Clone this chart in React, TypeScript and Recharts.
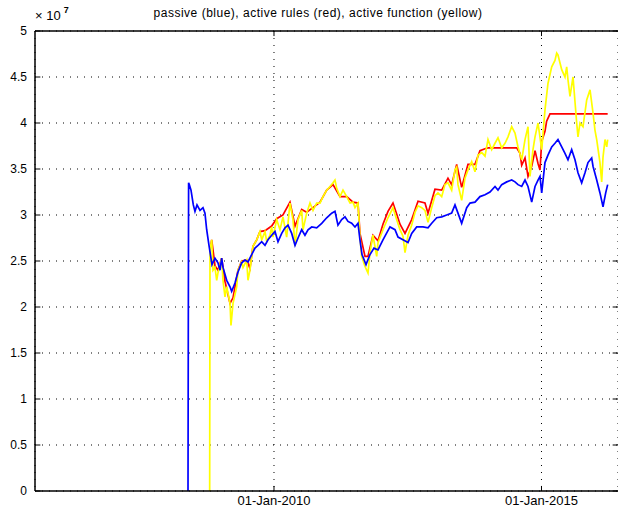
import { LineChart, Line, XAxis, YAxis, CartesianGrid, ReferenceLine } from 'recharts';

// x in decimal years, y in units of 10^7
const xMin = 2005.533;
const xMax = 2016.43;
const xTicks = [2010, 2015];
const yTicks = [0, 0.5, 1, 1.5, 2, 2.5, 3, 3.5, 4, 4.5, 5];

const blueYears = [
  2008.393, 2008.398, 2008.404, 2008.417, 2008.449, 2008.492, 2008.523, 2008.561, 2008.617, 2008.673,
  2008.710, 2008.742, 2008.785, 2008.841, 2008.897, 2008.953, 2008.991, 2009.022, 2009.047, 2009.116,
  2009.178, 2009.209, 2009.271, 2009.327, 2009.396, 2009.458, 2009.514, 2009.583, 2009.645, 2009.701,
  2009.770, 2009.832, 2009.888, 2009.957, 2010.019, 2010.075, 2010.144, 2010.206, 2010.262, 2010.331,
  2010.393, 2010.449, 2010.518, 2010.579, 2010.636, 2010.705, 2010.798, 2010.892, 2010.985, 2011.079,
  2011.140, 2011.196, 2011.265, 2011.327, 2011.383, 2011.452, 2011.514, 2011.570, 2011.607, 2011.645,
  2011.720, 2011.794, 2011.869, 2011.944, 2012.037, 2012.168, 2012.262, 2012.318, 2012.411, 2012.505,
  2012.574, 2012.667, 2012.785, 2012.879, 2012.948, 2013.041, 2013.135, 2013.228, 2013.321, 2013.383,
  2013.439, 2013.508, 2013.602, 2013.664, 2013.757, 2013.850, 2013.944, 2014.037, 2014.131, 2014.187,
  2014.256, 2014.350, 2014.443, 2014.505, 2014.561, 2014.630, 2014.692, 2014.748, 2014.817, 2014.879,
  2014.935, 2014.972, 2015.004, 2015.065, 2015.121, 2015.191, 2015.252, 2015.308, 2015.378, 2015.439,
  2015.495, 2015.564, 2015.626, 2015.682, 2015.751, 2015.813, 2015.869, 2015.938, 2015.963, 2016.032,
  2016.093, 2016.150, 2016.200, 2016.237,
];
const blueValues = [
  0, 1.64, 3.35, 3.33, 3.27, 3.11, 3.04, 3.11, 3.05, 3.08,
  3.02, 2.84, 2.67, 2.46, 2.53, 2.48, 2.40, 2.53, 2.43, 2.29,
  2.22, 2.17, 2.26, 2.38, 2.48, 2.51, 2.49, 2.57, 2.64, 2.67,
  2.71, 2.67, 2.73, 2.78, 2.82, 2.71, 2.80, 2.86, 2.89, 2.80,
  2.67, 2.75, 2.84, 2.78, 2.84, 2.87, 2.86, 2.91, 2.97, 3.02,
  3.04, 2.89, 2.95, 2.98, 2.93, 2.91, 2.87, 2.91, 2.73, 2.57,
  2.46, 2.57, 2.64, 2.62, 2.73, 2.87, 2.84, 2.76, 2.73, 2.70,
  2.80, 2.87, 2.87, 2.86, 2.91, 2.97, 2.98, 3.00, 3.02, 3.11,
  3.02, 2.91, 3.08, 3.13, 3.14, 3.20, 3.22, 3.25, 3.31, 3.27,
  3.33, 3.36, 3.38, 3.36, 3.33, 3.31, 3.38, 3.31, 3.14, 3.31,
  3.38, 3.42, 3.24, 3.57, 3.65, 3.74, 3.78, 3.82, 3.74, 3.67,
  3.60, 3.71, 3.60, 3.46, 3.35, 3.46, 3.57, 3.62, 3.53, 3.38,
  3.24, 3.09, 3.24, 3.33,
];

const redYears = [
  2008.804, 2008.836, 2008.897, 2008.953, 2009.022, 2009.084, 2009.178, 2009.234, 2009.327, 2009.396,
  2009.490, 2009.551, 2009.607, 2009.677, 2009.738, 2009.832, 2009.957, 2010.050, 2010.168, 2010.299,
  2010.393, 2010.518, 2010.611, 2010.729, 2010.860, 2010.985, 2011.103, 2011.234, 2011.359, 2011.477,
  2011.570, 2011.607, 2011.701, 2011.757, 2011.850, 2011.944, 2012.037, 2012.131, 2012.224, 2012.293,
  2012.355, 2012.449, 2012.574, 2012.692, 2012.822, 2012.879, 2013.009, 2013.135, 2013.252, 2013.321,
  2013.415, 2013.508, 2013.626, 2013.757, 2013.850, 2013.944, 2014.000, 2014.537, 2014.598, 2014.630,
  2014.692, 2014.748, 2014.817, 2014.879, 2014.935, 2014.972, 2015.004, 2015.065, 2015.096, 2015.159,
  2016.237,
];
const redValues = [
  2.62, 2.73, 2.45, 2.40, 2.53, 2.28, 2.04, 2.10, 2.40, 2.50,
  2.51, 2.42, 2.66, 2.73, 2.82, 2.83, 2.88, 2.96, 3.00, 3.14,
  2.88, 3.06, 3.03, 3.08, 3.14, 3.27, 3.33, 3.20, 3.20, 3.14,
  3.13, 2.80, 2.55, 2.55, 2.78, 2.72, 2.90, 3.04, 3.13, 3.01,
  2.90, 2.80, 2.95, 3.15, 3.13, 3.02, 3.28, 3.27, 3.40, 3.33,
  3.55, 3.30, 3.55, 3.55, 3.70, 3.72, 3.73, 3.73, 3.67, 3.54,
  3.62, 3.42, 3.53, 3.70, 3.56, 3.49, 3.80, 3.91, 4.02, 4.10,
  4.10,
];

const yellowYears = [
  2008.798, 2008.804, 2008.836, 2008.860, 2008.897, 2008.929, 2008.953, 2009.022, 2009.047, 2009.084,
  2009.116, 2009.178, 2009.196, 2009.234, 2009.303, 2009.327, 2009.396, 2009.421, 2009.490, 2009.514,
  2009.551, 2009.583, 2009.607, 2009.677, 2009.738, 2009.770, 2009.832, 2009.864, 2009.925, 2009.957,
  2009.981, 2010.050, 2010.112, 2010.168, 2010.237, 2010.299, 2010.355, 2010.393, 2010.449, 2010.518,
  2010.542, 2010.611, 2010.673, 2010.729, 2010.798, 2010.860, 2010.916, 2010.985, 2011.047, 2011.103,
  2011.140, 2011.172, 2011.234, 2011.290, 2011.359, 2011.421, 2011.477, 2011.514, 2011.570, 2011.607,
  2011.639, 2011.701, 2011.757, 2011.794, 2011.850, 2011.920, 2011.944, 2012.037, 2012.131, 2012.200,
  2012.224, 2012.293, 2012.355, 2012.411, 2012.449, 2012.505, 2012.574, 2012.636, 2012.692, 2012.761,
  2012.822, 2012.879, 2012.948, 2013.009, 2013.065, 2013.135, 2013.196, 2013.252, 2013.321, 2013.383,
  2013.415, 2013.439, 2013.508, 2013.570, 2013.626, 2013.695, 2013.757, 2013.813, 2013.882, 2013.944,
  2014.000, 2014.069, 2014.131, 2014.187, 2014.256, 2014.318, 2014.374, 2014.443, 2014.505, 2014.561,
  2014.630, 2014.692, 2014.748, 2014.785, 2014.841, 2014.879, 2014.935, 2015.004, 2015.065, 2015.121,
  2015.191, 2015.252, 2015.284, 2015.308, 2015.378, 2015.439, 2015.471, 2015.495, 2015.533, 2015.589,
  2015.658, 2015.682, 2015.720, 2015.776, 2015.845, 2015.907, 2015.963, 2016.000, 2016.032, 2016.093,
  2016.125, 2016.150, 2016.187, 2016.219, 2016.237,
];
const yellowValues = [
  0, 2.62, 2.73, 2.40, 2.43, 2.29, 2.37, 2.53, 2.29, 2.11,
  2.22, 2.04, 1.80, 2.04, 2.22, 2.40, 2.49, 2.43, 2.51, 2.29,
  2.40, 2.55, 2.66, 2.73, 2.82, 2.73, 2.82, 2.71, 2.78, 2.87,
  2.76, 2.95, 2.84, 2.98, 2.76, 3.13, 2.95, 2.66, 2.95, 3.05,
  2.84, 3.02, 3.13, 3.05, 3.13, 3.13, 3.20, 3.27, 3.31, 3.35,
  3.38, 3.29, 3.20, 3.27, 3.20, 3.13, 3.14, 3.08, 3.13, 2.76,
  2.55, 2.44, 2.37, 2.59, 2.78, 2.55, 2.70, 2.84, 2.97, 3.05,
  3.08, 2.95, 2.84, 2.77, 2.59, 2.78, 2.89, 3.03, 3.10, 3.08,
  3.05, 2.92, 3.08, 3.21, 3.24, 3.20, 3.33, 3.35, 3.27, 3.49,
  3.52, 3.33, 3.16, 3.40, 3.49, 3.58, 3.47, 3.65, 3.68, 3.64,
  3.82, 3.71, 3.78, 3.84, 3.73, 3.78, 3.85, 3.96, 3.89, 3.74,
  3.60, 3.82, 3.96, 3.42, 3.71, 3.85, 4.00, 3.71, 4.14, 4.43,
  4.61, 4.68, 4.76, 4.74, 4.58, 4.50, 4.61, 4.47, 4.29, 4.50,
  4.00, 3.85, 4.00, 3.96, 4.25, 4.36, 4.11, 3.92, 3.82, 3.57,
  3.36, 3.63, 3.82, 3.74, 3.82,
];

const toPoints = (years: number[], values: number[]) => years.map((t, i) => ({ t, v: values[i] }));

const blueData = toPoints(blueYears, blueValues);
const redData = toPoints(redYears, redValues);
const yellowData = toPoints(yellowYears, yellowValues);

const font = '"Liberation Sans", Arial, sans-serif';
const tickLen = 0.055; // inward tick length in y units
const tickLenX = 0.1; // inward tick length in years

export default function App() {
  return (
    <div style={{ position: 'absolute', left: 0, top: 0, width: 618, height: 507, background: '#fff', fontFamily: font }}>
      <LineChart width={618} height={507} margin={{ top: 31, right: 0, bottom: 0, left: 0 }}>
        <CartesianGrid stroke="#000" strokeDasharray="1 6" strokeWidth={1} />
        <XAxis
          dataKey="t"
          type="number"
          domain={[xMin, xMax]}
          allowDataOverflow
          ticks={xTicks}
          tickFormatter={(t) => `01-Jan-${t}`}
          height={16}
          tickLine={false}
          tickSize={0}
          tickMargin={5}
          axisLine={{ stroke: '#000', strokeWidth: 1.5 }}
          tick={{ fill: '#000', fontSize: 13, fontFamily: font }}
        />
        <YAxis
          type="number"
          domain={[0, 5]}
          ticks={yTicks}
          width={35}
          tickLine={false}
          axisLine={{ stroke: '#000', strokeWidth: 1.5 }}
          tick={{ fill: '#000', fontSize: 12, fontFamily: font }}
        />
        <ReferenceLine y={5} stroke="#000" strokeWidth={1.5} />
        {xTicks.map((t) => (
          <ReferenceLine key={`bx${t}`} segment={[{ x: t, y: 0 }, { x: t, y: tickLen }]} stroke="#000" />
        ))}
        {xTicks.map((t) => (
          <ReferenceLine key={`tx${t}`} segment={[{ x: t, y: 5 }, { x: t, y: 5 - tickLen }]} stroke="#000" />
        ))}
        {yTicks.map((v) => (
          <ReferenceLine key={`ly${v}`} segment={[{ x: xMin, y: v }, { x: xMin + tickLenX, y: v }]} stroke="#000" />
        ))}
        {yTicks.map((v) => (
          <ReferenceLine key={`ry${v}`} segment={[{ x: xMax, y: v }, { x: xMax - tickLenX, y: v }]} stroke="#000" />
        ))}
        <Line data={redData} dataKey="v" stroke="#ff0000" strokeWidth={1.7} dot={false} isAnimationActive={false} />
        <Line data={yellowData} dataKey="v" stroke="#ffff00" strokeWidth={1.7} dot={false} isAnimationActive={false} />
        <Line data={blueData} dataKey="v" stroke="#0000ff" strokeWidth={1.7} dot={false} isAnimationActive={false} />
      </LineChart>
      <div style={{ position: 'absolute', left: 0, width: 636, top: 6, textAlign: 'center', fontSize: 12, letterSpacing: 0.5, color: '#000', whiteSpace: 'nowrap' }}>
        passive (blue), active rules (red), active function (yellow)
      </div>
      <div style={{ position: 'absolute', left: 35, top: 8, fontSize: 13, color: '#000', whiteSpace: 'nowrap' }}>
        × 10<sup style={{ fontSize: 9, fontWeight: 'bold', verticalAlign: 'top', position: 'relative', top: -3, marginLeft: 3 }}>7</sup>
      </div>
    </div>
  );
}
